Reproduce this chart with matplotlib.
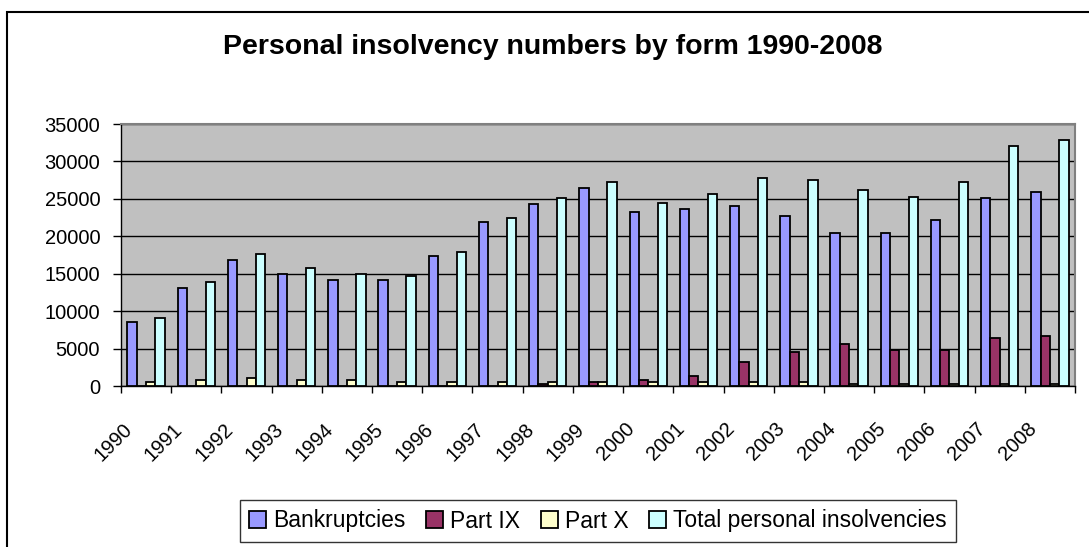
import numpy as np
import matplotlib
matplotlib.use("Agg")
import matplotlib.pyplot as plt
from matplotlib.patches import Rectangle
from matplotlib.transforms import ScaledTranslation

plt.rcParams['font.family'] = ['Liberation Sans', 'DejaVu Sans']

years = [str(y) for y in range(1990, 2009)]
bankruptcies = [8500, 13050, 16800, 14950, 14150, 14100, 17400, 21900, 24300, 26400,
                23200, 23700, 24000, 22700, 20500, 20500, 22200, 25100, 25900]
part_ix = [0, 0, 0, 0, 0, 0, 0, 0, 250, 500,
           800, 1300, 3150, 4500, 5550, 4750, 4750, 6350, 6650]
part_x = [500, 750, 1050, 750, 750, 500, 500, 500, 500, 500,
          500, 500, 500, 500, 270, 270, 270, 270, 270]
total = [9050, 13900, 17600, 15700, 14950, 14650, 17850, 22400, 25100, 27250,
         24500, 25600, 27800, 27500, 26200, 25300, 27250, 32050, 32800]

series = [("Bankruptcies", bankruptcies, "#9999FF"),
          ("Part IX", part_ix, "#993366"),
          ("Part X", part_x, "#FFFFCC"),
          ("Total personal insolvencies", total, "#CCFFFF")]

W, H = 1089, 547
fig = plt.figure(figsize=(W/100, H/100), dpi=100)

# outer chart border (only top and left visible)
fig.patches.append(Rectangle((7/W, -0.1), 1.2, 1 - 12/H + 0.1, transform=fig.transFigure,
                             fill=False, edgecolor="black", linewidth=1.5))

ax = fig.add_axes([121/W, 1 - 386/H, 954/W, 262/H])
ax.set_facecolor("#C0C0C0")

x = np.arange(len(years))
bw = 0.186
for i, (name, vals, col) in enumerate(series):
    ax.bar(x + (i - 1.5)*bw, vals, bw, color=col, edgecolor="black", linewidth=1.3,
           label=name, zorder=3)

ax.set_xlim(-0.5, len(years) - 0.5)
ax.set_ylim(0, 35000)
ax.set_yticks(range(0, 35001, 5000))
ax.yaxis.grid(True, color="black", linewidth=1, zorder=1)
ax.set_axisbelow(True)

ax.set_xticks(x)
ax.set_xticklabels(years, rotation=45, ha="right", va="top", fontsize=14.5)
ax.tick_params(axis="x", which="major", length=0, pad=24)
ax.set_xticks(np.arange(-0.5, len(years), 1), minor=True)
ax.tick_params(axis="x", which="minor", length=5, width=1, direction="out")
ax.tick_params(axis="y", length=6, width=1, labelsize=14.5, pad=9)
off = ScaledTranslation(-10/100, 0, fig.dpi_scale_trans)
for lab in ax.get_xticklabels():
    lab.set_transform(lab.get_transform() + off)

for s in ["left", "bottom"]:
    ax.spines[s].set_color("black")
    ax.spines[s].set_linewidth(1)
for s in ["top", "right"]:
    ax.spines[s].set_color("#808080")
    ax.spines[s].set_linewidth(1.5)

fig.text(553/W, 1 - 47/H, "Personal insolvency numbers by form 1990-2008",
         ha="center", va="center", fontsize=20.5, fontweight="bold")

leg = fig.legend(loc="center", bbox_to_anchor=(598/W, 1 - 521/H), ncol=4, fontsize=16.5,
                 frameon=True, fancybox=False, edgecolor="black", handlelength=0.75,
                 handleheight=0.75, handletextpad=0.3, columnspacing=0.9,
                 borderpad=0.4, borderaxespad=0)
leg.get_frame().set_linewidth(1)

fig.savefig("out.png", dpi=100, facecolor="white")
